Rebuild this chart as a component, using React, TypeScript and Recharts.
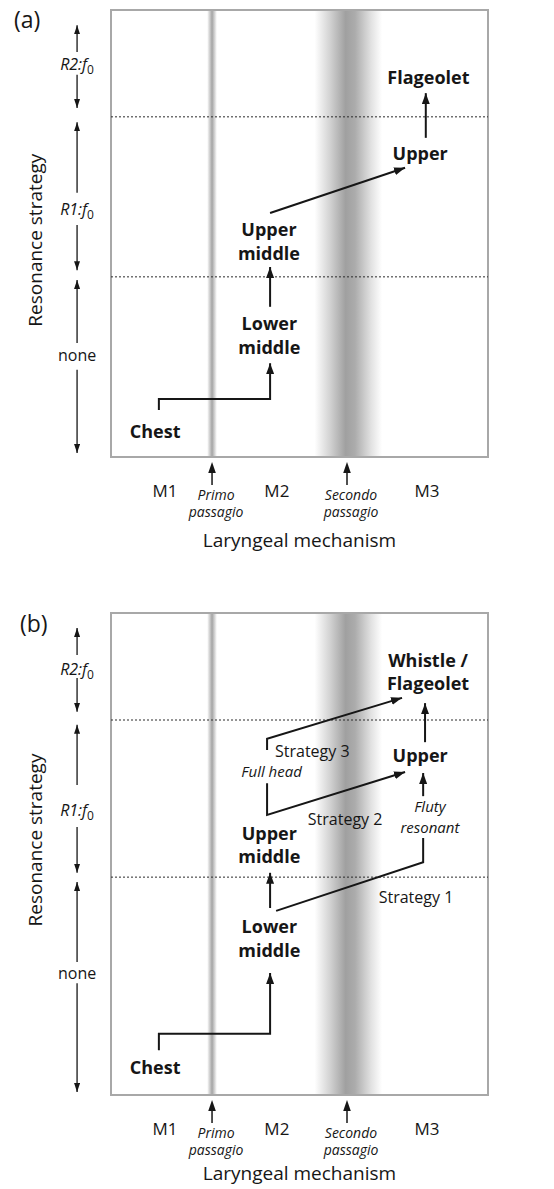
import React from 'react';
import {
  ComposedChart,
  Line,
  XAxis,
  YAxis,
  ReferenceArea,
  ReferenceLine,
  ReferenceDot,
} from 'recharts';

const FONT = '"Open Sans", "Noto Sans", "DejaVu Sans", sans-serif';
const INK = '#161616';

type Pt = { x: number; y: number };

// ---------- shared: laryngeal mechanism axis (x in 0..100 diagram units) ----------
const mechTicks = [14.3, 26.8, 44.0, 62.6, 83.8];
const mechLabels = ['M1', 'Primo', 'M2', 'Secondo', 'M3'];
const mechSubLabels = ['', 'passagio', '', 'passagio', ''];
const passaggioStart = [25.5, 54.0];
const passaggioEnd = [28.1, 71.9];
const passaggioIds = ['primo', 'secondo'];

// resonance strategy ranges (left margin)
const strategyNames = ['R2:f0', 'R1:f0', 'none'];
const strategyX = -9.0;

// ---------- panel (a) ----------
const boundariesA = [76.1, 40.3];
const pitchTicksA = [76.1, 59.1, 40.3, 17.9];
const pitchNamesA = ['~ C#6', '~ F#5', '~ C#5', '~ Eb4'];
const stratLabelYA = [87.7, 55.3, 22.6];
const stratTopA = [96.6, 74.9, 39.6];
const stratUpEndA = [90.6, 59.1, 25.5];
const stratDownStartA = [85.5, 51.9, 19.5];
const stratBottomA = [78.1, 41.8, 0.9];

const registerNamesA = ['Chest', 'Lower|middle', 'Upper|middle', 'Upper', 'Flageolet'];
const registerXA = [11.7, 42.0, 41.9, 82.0, 84.2];
const registerYA = [5.8, 27.2, 48.1, 68.0, 84.8];

const chestToLowerA: Pt[] = [
  { x: 12.7, y: 10.5 },
  { x: 12.7, y: 13.0 },
  { x: 42.2, y: 13.0 },
  { x: 42.2, y: 21.0 },
];
const lowerToUpperMidA: Pt[] = [
  { x: 42.2, y: 33.6 },
  { x: 42.2, y: 42.5 },
];
const upperMidToUpperA: Pt[] = [
  { x: 42.2, y: 54.6 },
  { x: 78.0, y: 64.7 },
];
const upperToFlageoletA: Pt[] = [
  { x: 83.5, y: 71.4 },
  { x: 83.5, y: 81.4 },
];

// ---------- panel (b) ----------
const boundariesB = [77.8, 45.2];
const pitchTicksB = [77.8, 45.2, 13.5];
const pitchNamesB = ['~ C6', '~ C5', '~ C4'];
const stratLabelYB = [88.2, 59.1, 25.3];
const stratTopB = [96.9, 76.8, 44.2];
const stratUpEndB = [91.3, 64.3, 27.6];
const stratDownStartB = [86.5, 55.6, 23.2];
const stratBottomB = [79.5, 46.1, 0.6];

const registerNamesB = ['Chest', 'Lower|middle', 'Upper|middle', 'Upper', 'Whistle /|Flageolet'];
const registerXB = [11.7, 42.0, 42.0, 82.0, 84.1];
const registerYB = [5.6, 32.4, 51.8, 70.5, 87.8];

const noteNamesB = ['Strategy 1', 'Strategy 2', 'Strategy 3', 'Full head', 'Fluty|resonant'];
const noteXB = [80.9, 62.1, 53.4, 42.6, 84.6];
const noteYB = [41.1, 57.3, 71.4, 67.0, 57.7];
const noteItalicB = [false, false, false, true, true];

const chestToLowerB: Pt[] = [
  { x: 12.7, y: 9.3 },
  { x: 12.7, y: 12.7 },
  { x: 42.2, y: 12.7 },
  { x: 42.2, y: 25.3 },
];
const lowerToUpperMidB: Pt[] = [
  { x: 42.2, y: 38.8 },
  { x: 42.2, y: 46.1 },
];
const strategy1B: Pt[] = [
  { x: 43.8, y: 38.2 },
  { x: 82.8, y: 48.3 },
  { x: 82.8, y: 53.3 },
];
const strategy2B: Pt[] = [
  { x: 41.4, y: 64.7 },
  { x: 41.4, y: 58.1 },
  { x: 78.0, y: 67.0 },
];
const strategy3B: Pt[] = [
  { x: 41.4, y: 71.6 },
  { x: 41.4, y: 73.9 },
  { x: 77.2, y: 82.4 },
];
const flutyToUpperB: Pt[] = [
  { x: 82.8, y: 62.0 },
  { x: 82.8, y: 66.8 },
];
const upperToWhistleB: Pt[] = [
  { x: 83.3, y: 73.2 },
  { x: 83.3, y: 81.3 },
];

// ---------- render helpers ----------
function MultiText(props: any) {
  const { cx, cy, text, size, weight = 400, italic = false, lh = 23, anchor = 'middle' } = props;
  if (cx == null || cy == null) return null;
  const lines = String(text).split('|');
  const first = cy - ((lines.length - 1) / 2) * lh + 0.36 * size;
  return (
    <g>
      {lines.map((l: string, i: number) => (
        <text
          key={i}
          x={cx}
          y={first + i * lh}
          textAnchor={anchor}
          fontFamily={FONT}
          fontSize={size}
          fontWeight={weight}
          fontStyle={italic ? 'italic' : 'normal'}
          fill={INK}
        >
          {l}
        </text>
      ))}
    </g>
  );
}

function StrategyText(props: any) {
  const { cx, cy, text } = props;
  if (cx == null || cy == null) return null;
  const m = /^(.*):f0$/.exec(text);
  if (m) {
    return (
      <text x={cx} y={cy + 5.5} textAnchor="middle" fontFamily={FONT} fontSize={16} fill={INK}>
        <tspan fontStyle="italic">{m[1] + ':f'}</tspan>
        <tspan fontSize={12} dy={4}>
          0
        </tspan>
      </text>
    );
  }
  return (
    <text x={cx} y={cy + 5.5} textAnchor="middle" fontFamily={FONT} fontSize={16} fill={INK}>
      {text}
    </text>
  );
}

function MechTick(props: any) {
  const { x, y, payload } = props;
  const i = mechTicks.indexOf(payload.value);
  if (i < 0) return null;
  if (!mechSubLabels[i]) {
    return (
      <text x={x} y={y + 40} textAnchor="middle" fontFamily={FONT} fontSize={17} fill={INK}>
        {mechLabels[i]}
      </text>
    );
  }
  return (
    <g>
      <line x1={x} y1={y + 28} x2={x} y2={y + 14} stroke={INK} strokeWidth={1.5} />
      <path d={`M${x - 3.8},${y + 16} L${x},${y + 5} L${x + 3.8},${y + 16} Z`} fill={INK} />
      <text x={x + 4} y={y + 43} textAnchor="middle" fontFamily={FONT} fontSize={14} fontStyle="italic" fill={INK}>
        {mechLabels[i]}
      </text>
      <text x={x + 4} y={y + 60} textAnchor="middle" fontFamily={FONT} fontSize={14} fontStyle="italic" fill={INK}>
        {mechSubLabels[i]}
      </text>
    </g>
  );
}

const arrowLine = (markerId: string, width: number) => (p: any) => (
  <line
    x1={p.x1}
    y1={p.y1}
    x2={p.x2}
    y2={p.y2}
    stroke={INK}
    strokeWidth={width}
    markerEnd={`url(#${markerId})`}
  />
);

const makeYTitle = (frac: number) => (p: any) => {
  const vb = p && p.viewBox;
  if (!vb) return null;
  const cx = vb.x + 35;
  const cy = vb.y + vb.height * frac;
  return (
    <text
      x={cx}
      y={cy}
      dy="0.36em"
      transform={`rotate(-90 ${cx} ${cy})`}
      textAnchor="middle"
      fontFamily={FONT}
      fontSize={19}
      fill={INK}
    >
      Resonance strategy
    </text>
  );
};

const makeXTitle = (offset: number) => (p: any) => {
  const vb = p && p.viewBox;
  if (!vb) return null;
  return (
    <text
      x={vb.x + vb.width / 2}
      y={vb.y + offset}
      textAnchor="middle"
      fontFamily={FONT}
      fontSize={19}
      fill={INK}
    >
      Laryngeal mechanism
    </text>
  );
};

interface PanelProps {
  id: string;
  height: number;
  marginTop: number;
  axisHeight: number;
  titleFrac: number;
  xTitleOffset: number;
  boundaries: number[];
  pitchTicks: number[];
  pitchNames: string[];
  stratLabelY: number[];
  stratTop: number[];
  stratUpEnd: number[];
  stratDownStart: number[];
  stratBottom: number[];
  paths: Pt[][];
  pathHeads: boolean[];
  registerNames: string[];
  registerX: number[];
  registerY: number[];
  registerLh: number[];
  noteNames: string[];
  noteX: number[];
  noteY: number[];
  noteItalic: boolean[];
}

function Panel(p: PanelProps) {
  const headId = `head-${p.id}`;
  const smallHeadId = `shead-${p.id}`;
  return (
    <ComposedChart
      width={554}
      height={p.height}
      margin={{ top: p.marginTop, right: 0, bottom: 10, left: 0 }}
    >
      <defs>
        <linearGradient id={`primo-${p.id}`} x1="0" y1="0" x2="1" y2="0">
          <stop offset="0" stopColor="#ffffff" />
          <stop offset="0.5" stopColor="#a4a4a4" />
          <stop offset="1" stopColor="#ffffff" />
        </linearGradient>
        <linearGradient id={`secondo-${p.id}`} x1="0" y1="0" x2="1" y2="0">
          <stop offset="0" stopColor="#ffffff" />
          <stop offset="0.22" stopColor="#d4d4d4" />
          <stop offset="0.46" stopColor="#a0a0a0" />
          <stop offset="0.6" stopColor="#acacac" />
          <stop offset="0.84" stopColor="#e2e2e2" />
          <stop offset="1" stopColor="#ffffff" />
        </linearGradient>
        <marker
          id={headId}
          markerWidth="11"
          markerHeight="8"
          refX="11"
          refY="4"
          orient="auto"
          markerUnits="userSpaceOnUse"
        >
          <path d="M0,0 L11,4 L0,8 Z" fill={INK} />
        </marker>
        <marker
          id={smallHeadId}
          markerWidth="9"
          markerHeight="6"
          refX="9"
          refY="3"
          orient="auto"
          markerUnits="userSpaceOnUse"
        >
          <path d="M0,0 L9,3 L0,6 Z" fill={INK} />
        </marker>
      </defs>

      <XAxis
        type="number"
        dataKey="x"
        domain={[0, 100]}
        ticks={mechTicks}
        interval={0}
        height={p.axisHeight}
        axisLine={false}
        tickLine={false}
        tickSize={0}
        tickMargin={0}
        tick={MechTick}
        label={makeXTitle(p.xTitleOffset)}
      />
      <YAxis
        type="number"
        domain={[0, 100]}
        width={111}
        tick={false}
        axisLine={false}
        tickLine={false}
        label={makeYTitle(p.titleFrac)}
      />
      <YAxis
        yAxisId="pitch"
        orientation="right"
        type="number"
        domain={[0, 100]}
        width={66}
        ticks={p.pitchTicks}
        interval={0}
        axisLine={false}
        tickLine={false}
        tickFormatter={(v: number) => p.pitchNames[p.pitchTicks.indexOf(v)] ?? ''}
        tick={{ fill: INK, fontSize: 16, fontFamily: FONT }}
      />

      {passaggioIds.map((pid, i) => (
        <ReferenceArea
          key={pid}
          x1={passaggioStart[i]}
          x2={passaggioEnd[i]}
          y1={0}
          y2={100}
          fill={`url(#${pid}-${p.id})`}
          fillOpacity={1}
          stroke="none"
        />
      ))}
      <ReferenceArea x1={0} x2={100} y1={0} y2={100} fill="none" stroke="#a8a8a8" strokeWidth={2} />

      {p.boundaries.map((b) => (
        <ReferenceLine key={b} y={b} stroke="#2a2a2a" strokeWidth={1} strokeDasharray="2 2" />
      ))}

      {strategyNames.map((s, i) => (
        <ReferenceLine
          key={`up-${s}`}
          segment={[
            { x: strategyX, y: p.stratUpEnd[i] },
            { x: strategyX, y: p.stratTop[i] },
          ]}
          ifOverflow="visible"
          shape={arrowLine(smallHeadId, 1.3)}
        />
      ))}
      {strategyNames.map((s, i) => (
        <ReferenceLine
          key={`dn-${s}`}
          segment={[
            { x: strategyX, y: p.stratDownStart[i] },
            { x: strategyX, y: p.stratBottom[i] },
          ]}
          ifOverflow="visible"
          shape={arrowLine(smallHeadId, 1.3)}
        />
      ))}
      {strategyNames.map((s, i) => (
        <ReferenceDot
          key={`st-${s}`}
          x={strategyX}
          y={p.stratLabelY[i]}
          ifOverflow="visible"
          shape={<StrategyText text={s} />}
        />
      ))}

      {p.paths.map((pts, i) => (
        <Line
          key={`path-${i}`}
          data={pts}
          dataKey="y"
          type="linear"
          stroke={INK}
          strokeWidth={2}
          strokeLinejoin="miter"
          dot={false}
          activeDot={false}
          legendType="none"
          isAnimationActive={false}
          markerEnd={p.pathHeads[i] ? `url(#${headId})` : undefined}
        />
      ))}

      {p.registerNames.map((n, i) => (
        <ReferenceDot
          key={`reg-${n}`}
          x={p.registerX[i]}
          y={p.registerY[i]}
          ifOverflow="visible"
          shape={<MultiText text={n} size={18} weight={700} lh={p.registerLh[i]} />}
        />
      ))}
      {p.noteNames.map((n, i) => (
        <ReferenceDot
          key={`note-${n}`}
          x={p.noteX[i]}
          y={p.noteY[i]}
          ifOverflow="visible"
          shape={<MultiText text={n} size={p.noteItalic[i] ? 15 : 16} italic={p.noteItalic[i]} lh={20.5} />}
        />
      ))}
    </ComposedChart>
  );
}

export default function App() {
  return (
    <div
      style={{
        position: 'absolute',
        left: 0,
        top: 0,
        width: 554,
        height: 1189,
        background: '#ffffff',
        fontFamily: FONT,
      }}
    >
      <div style={{ position: 'absolute', left: 0, top: 0 }}>
        <Panel
          id="a"
          height={590}
          marginTop={10}
          axisHeight={123}
          titleFrac={0.515}
          xTitleOffset={90}
          boundaries={boundariesA}
          pitchTicks={pitchTicksA}
          pitchNames={pitchNamesA}
          stratLabelY={stratLabelYA}
          stratTop={stratTopA}
          stratUpEnd={stratUpEndA}
          stratDownStart={stratDownStartA}
          stratBottom={stratBottomA}
          paths={[chestToLowerA, lowerToUpperMidA, upperMidToUpperA, upperToFlageoletA]}
          pathHeads={[true, true, true, true]}
          registerNames={registerNamesA}
          registerX={registerXA}
          registerY={registerYA}
          registerLh={[24, 24, 24, 24, 24]}
          noteNames={[]}
          noteX={[]}
          noteY={[]}
          noteItalic={[]}
        />
      </div>
      <div style={{ position: 'absolute', left: 0, top: 590 }}>
        <Panel
          id="b"
          height={599}
          marginTop={23}
          axisHeight={84}
          titleFrac={0.471}
          xTitleOffset={85}
          boundaries={boundariesB}
          pitchTicks={pitchTicksB}
          pitchNames={pitchNamesB}
          stratLabelY={stratLabelYB}
          stratTop={stratTopB}
          stratUpEnd={stratUpEndB}
          stratDownStart={stratDownStartB}
          stratBottom={stratBottomB}
          paths={[
            chestToLowerB,
            lowerToUpperMidB,
            strategy1B,
            strategy2B,
            strategy3B,
            flutyToUpperB,
            upperToWhistleB,
          ]}
          pathHeads={[true, true, false, true, true, true, true]}
          registerNames={registerNamesB}
          registerX={registerXB}
          registerY={registerYB}
          registerLh={[23, 24, 23, 23, 23]}
          noteNames={noteNamesB}
          noteX={noteXB}
          noteY={noteYB}
          noteItalic={noteItalicB}
        />
      </div>
      <div
        style={{
          position: 'absolute',
          left: 14,
          top: 8,
          fontSize: 23,
          lineHeight: 1,
          color: INK,
          fontFamily: FONT,
        }}
      >
        (a)
      </div>
      <div
        style={{
          position: 'absolute',
          left: 20,
          top: 612,
          fontSize: 23,
          lineHeight: 1,
          color: INK,
          fontFamily: FONT,
        }}
      >
        (b)
      </div>
    </div>
  );
}
